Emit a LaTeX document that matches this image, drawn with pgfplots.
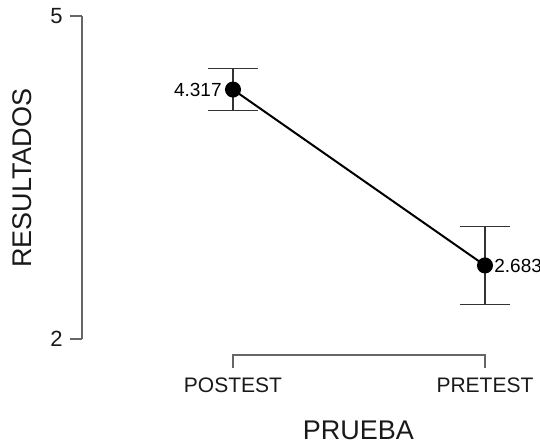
\documentclass[border=0pt]{standalone}
\usepackage{pgfplots}
\pgfplotsset{compat=1.18}
\usepackage{fontspec}
\setmainfont{Liberation Sans}
\begin{document}
\begin{tikzpicture}
\begin{axis}[
  scale only axis,
  width=226.8pt, height=161.5pt,
  xmin=-0.6, xmax=1.2, ymin=2, ymax=5,
  axis y line*=left, axis x line=none,
  y axis line style={black!60, line width=0.75pt, -},
  ytick={2,5},
  tick align=outside,
  major tick length=6pt,
  ytick style={black!60, line width=0.75pt},
  yticklabel style={font=\fontsize{11}{13}\selectfont, text=black!90},
  /pgf/number format/assume math mode=true,
  clip=false,
]
\addplot[black, line width=1pt, mark=*, mark size=3.5pt,
  error bars/.cd, y dir=both, y explicit,
  error bar style={line width=0.6pt, black!80},
  error mark options={rotate=90, mark size=12.5pt, line width=0.6pt, black!80}]
  coordinates {(0,4.317) +- (0,0.198) (1,2.683) +- (0,0.362)};
% x axis bracket
\draw[black!60, line width=0.75pt] (axis cs:0,1.731) -- (axis cs:0,1.8515) -- (axis cs:1,1.8515) -- (axis cs:1,1.731);
\node[font=\fontsize{10.5}{12}\selectfont, text=black!90] at (axis cs:0,1.568) {POSTEST};
\node[font=\fontsize{10.5}{12}\selectfont, text=black!90] at (axis cs:1,1.568) {PRETEST};
\node[font=\fontsize{13.5}{15}\selectfont, text=black!90] at (axis cs:0.498,1.155) {PRUEBA};
\node[font=\fontsize{13.5}{15}\selectfont, text=black!90, rotate=90] at (axis cs:-0.8373,3.495) {RESULTADOS};
% value labels
\node[font=\fontsize{9.5}{11}\selectfont, text=black, anchor=east, inner sep=0pt, xshift=-5.5pt] at (axis cs:0,4.317) {4.317};
\node[font=\fontsize{9.5}{11}\selectfont, text=black, anchor=west, inner sep=0pt, xshift=4.5pt] at (axis cs:1,2.683) {2.683};
\coordinate (BL) at (axis cs:-0.9246,1.0155);
\coordinate (TR) at (axis cs:1.2183,5.1486);
\end{axis}
\pgfresetboundingbox
\path[use as bounding box] (BL) rectangle (TR);
\end{tikzpicture}
\end{document}
